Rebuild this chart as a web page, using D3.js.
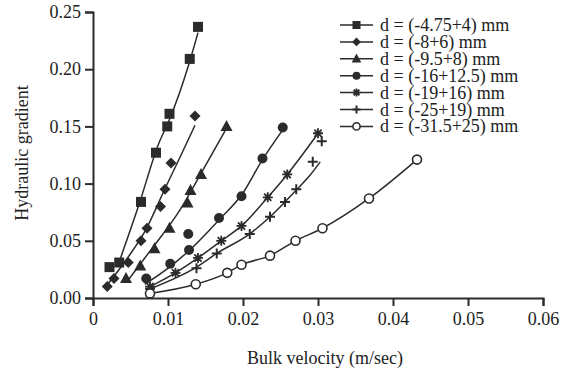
<!DOCTYPE html>
<html>
<head>
<meta charset="utf-8">
<script src="https://cdn.jsdelivr.net/npm/d3@7"></script>
<style>
  body { margin: 0; background: #fff; }
  text { font-family: "Liberation Serif", "Times New Roman", serif; fill: #222; }
</style>
</head>
<body>
<svg id="chart" width="568" height="374"></svg>
<script>
// series labels
const labels = ["d = (-4.75+4) mm", "d = (-8+6) mm", "d = (-9.5+8) mm", "d = (-16+12.5) mm",
                "d = (-19+16) mm", "d = (-25+19) mm", "d = (-31.5+25) mm"]
const symbols = ["square", "diamond", "triangle", "circle", "asterisk", "plus", "open"]

// measured points [velocity, gradient]
const pts0 = [[0.0022,0.027],[0.0035,0.031],[0.0064,0.084],[0.0084,0.127],[0.0099,0.150],[0.0102,0.161],[0.0129,0.209],[0.0140,0.237]]
const pts1 = [[0.0019,0.010],[0.0028,0.017],[0.0047,0.031],[0.0064,0.050],[0.0072,0.061],[0.0090,0.080],[0.0096,0.095],[0.0104,0.118],[0.0136,0.159]]
const pts2 = [[0.0044,0.017],[0.0063,0.028],[0.0082,0.043],[0.0102,0.061],[0.0126,0.083],[0.0130,0.094],[0.0144,0.108],[0.0178,0.150]]
const pts3 = [[0.0071,0.017],[0.0103,0.030],[0.0128,0.042],[0.0127,0.056],[0.0168,0.070],[0.0198,0.089],[0.0226,0.122],[0.0253,0.149]]
const pts4 = [[0.0076,0.010],[0.0110,0.022],[0.0140,0.035],[0.0171,0.050],[0.0198,0.063],[0.0233,0.088],[0.0259,0.108],[0.0300,0.144]]
const pts5 = [[0.0076,0.008],[0.0138,0.026],[0.0165,0.039],[0.0209,0.056],[0.0236,0.071],[0.0256,0.084],[0.0271,0.095],[0.0293,0.119],[0.0305,0.137]]
const pts6 = [[0.0076,0.004],[0.0137,0.012],[0.0179,0.022],[0.0198,0.029],[0.0236,0.037],[0.0270,0.050],[0.0306,0.061],[0.0368,0.087],[0.0432,0.121]]

// fitted curves drawn through the data
const fit0 = [[0.0033,0.028],[0.0062,0.083],[0.0087,0.134],[0.0102,0.156],[0.0127,0.2025],[0.0140,0.232]]
const fit1 = [[0.0016,0.009],[0.0046,0.035],[0.0069,0.058],[0.0097,0.097],[0.0116,0.123],[0.0136,0.151]]
const fit2 = [[0.0045,0.014],[0.0076,0.041],[0.0116,0.077],[0.0145,0.110],[0.0176,0.146]]
const fit3 = [[0.0069,0.012],[0.0102,0.027],[0.0129,0.042],[0.0169,0.069],[0.0198,0.090],[0.0226,0.121],[0.0253,0.147]]
const fit4 = [[0.0076,0.010],[0.0110,0.022],[0.0140,0.035],[0.0171,0.050],[0.0198,0.063],[0.0233,0.088],[0.0259,0.108],[0.0298,0.142]]
const fit5 = [[0.0076,0.008],[0.0138,0.027],[0.0165,0.039],[0.0209,0.056],[0.0236,0.071],[0.0256,0.084],[0.0272,0.095],[0.0289,0.107],[0.0303,0.119]]
const fit6 = pts6

const allPts = [pts0, pts1, pts2, pts3, pts4, pts5, pts6]
const allFits = [fit0, fit1, fit2, fit3, fit4, fit5, fit6]

const xTicks = [0, 0.01, 0.02, 0.03, 0.04, 0.05, 0.06]
const yTicks = [0, 0.05, 0.10, 0.15, 0.20, 0.25]

const INK = "#2b2b2b"
let svg = d3.select("#chart")
const W = +svg.attr("width")
const H = +svg.attr("height")
const margin = {left: 93, right: 25, top: 12, bottom: 76}

let x = d3.scaleLinear().domain([0, 0.06]).range([margin.left, W - margin.right])
let y = d3.scaleLinear().domain([0, 0.25]).range([H - margin.bottom, margin.top])

// axes
let xAxis = svg.append("g")
    .attr("transform", "translate(0," + y(0) + ")")
    .call(d3.axisBottom(x).tickValues(xTicks).tickSize(8).tickPadding(6)
        .tickFormat(d => d === 0 ? "0" : d3.format(".2f")(d)))
let yAxis = svg.append("g")
    .attr("transform", "translate(" + x(0) + ",0)")
    .call(d3.axisLeft(y).tickValues(yTicks).tickSize(8).tickPadding(4).tickFormat(d3.format(".2f")))
;[xAxis, yAxis].forEach(g => {
    g.select(".domain").attr("stroke", INK).attr("stroke-width", 2)
    g.selectAll(".tick line").attr("stroke", INK).attr("stroke-width", 2)
    g.selectAll(".tick text").style("font-size", "18px").attr("fill", "#222")
        .style("font-family", "Liberation Serif, serif")
})

svg.append("text")
    .attr("x", 325).attr("y", 364)
    .attr("text-anchor", "middle")
    .style("font-size", "18px")
    .text("Bulk velocity (m/sec)")
svg.append("text")
    .attr("transform", "translate(28,153) rotate(-90)")
    .attr("text-anchor", "middle")
    .style("font-size", "18px")
    .text("Hydraulic gradient")

// marker drawing, s = scale
function drawMarker(g, type, cx, cy, s) {
    s = s || 1
    if (type === "square") {
        let h = 5 * s
        g.append("rect").attr("x", cx - h).attr("y", cy - h).attr("width", 2 * h).attr("height", 2 * h).attr("fill", INK)
    } else if (type === "diamond") {
        let h = 5.5 * s
        g.append("path").attr("d", `M${cx},${cy-h}L${cx+h},${cy}L${cx},${cy+h}L${cx-h},${cy}Z`).attr("fill", INK)
    } else if (type === "triangle") {
        g.append("path").attr("d", `M${cx},${cy-6.5*s}L${cx+6*s},${cy+4.5*s}L${cx-6*s},${cy+4.5*s}Z`).attr("fill", INK)
    } else if (type === "circle") {
        g.append("circle").attr("cx", cx).attr("cy", cy).attr("r", 5 * s).attr("fill", INK)
    } else if (type === "open") {
        g.append("circle").attr("cx", cx).attr("cy", cy).attr("r", 4.5 * s)
            .attr("fill", "#fff").attr("stroke", INK).attr("stroke-width", 1.6)
    } else if (type === "asterisk") {
        let r = 5 * s, d = 3.6 * s
        g.append("path")
            .attr("d", `M${cx-r},${cy}L${cx+r},${cy}M${cx},${cy-r}L${cx},${cy+r}M${cx-d},${cy-d}L${cx+d},${cy+d}M${cx-d},${cy+d}L${cx+d},${cy-d}`)
            .attr("stroke", INK).attr("stroke-width", 1.8)
    } else if (type === "plus") {
        let r = 5 * s
        g.append("path")
            .attr("d", `M${cx-r},${cy}L${cx+r},${cy}M${cx},${cy-r}L${cx},${cy+r}`)
            .attr("stroke", INK).attr("stroke-width", 2)
    }
}

// curves
let line = d3.line().x(d => x(d[0])).y(d => y(d[1])).curve(d3.curveMonotoneX)
allFits.forEach((f, i) => {
    svg.append("path")
        .datum(f)
        .attr("d", line)
        .attr("fill", "none")
        .attr("stroke", INK)
        .attr("stroke-width", 1.5)
})

// points
allPts.forEach((p, i) => {
    let g = svg.append("g")
    p.forEach(d => drawMarker(g, symbols[i], x(d[0]), y(d[1])))
})

// legend
let legend = svg.append("g")
labels.forEach((t, i) => {
    let ly = 25 + i * 16.9
    legend.append("line").attr("x1", 340).attr("x2", 373).attr("y1", ly).attr("y2", ly)
        .attr("stroke", INK).attr("stroke-width", 1.5)
    drawMarker(legend, symbols[i], 356.5, ly, 0.8)
    legend.append("text").attr("x", 380).attr("y", ly + 6)
        .style("font-size", "18px")
        .text(t)
})
</script>
</body>
</html>
